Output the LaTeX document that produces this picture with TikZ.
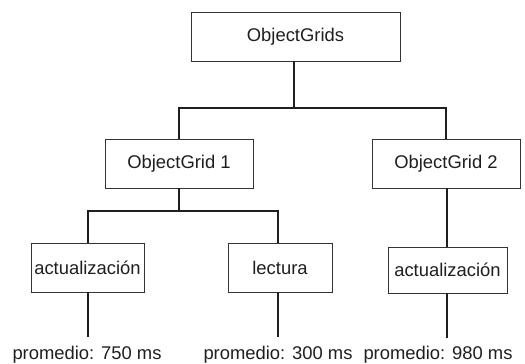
\documentclass[tikz,border=0pt]{standalone}
\usepackage{fontspec}
\setmainfont{Liberation Sans}
\begin{document}
\begin{tikzpicture}[x=1pt,y=-1pt,
  box/.style={draw=black!80, line width=0.8pt, fill=white, inner sep=0pt,
    font=\fontsize{18.4}{20}\selectfont, text=black!88},
  conn/.style={draw=black!88, line width=2pt},
  lbl/.style={inner sep=0pt, font=\fontsize{18.4}{20}\selectfont, text=black!88}]
\useasboundingbox (0,0) rectangle (525,364);

% tree boxes
\node[box, minimum width=209pt, minimum height=49pt] (root) at (295.5,36.5) {ObjectGrids};
\node[box, minimum width=148pt, minimum height=49pt] (og1) at (179,163.5) {ObjectGrid 1};
\node[box, minimum width=148pt, minimum height=49pt] (og2) at (446,163.5) {ObjectGrid 2};
\node[box, minimum width=113pt, minimum height=49pt] (act1) at (87.5,267.5) {actualización};
\node[box, minimum width=104pt, minimum height=49pt] (lec) at (280,267.5) {lectura};
\node[box, minimum width=119pt, minimum height=46pt] (act2) at (447.5,270) {actualización};

% timing labels
\node[lbl] (p1) at (87,355) {promedio: 750 ms};
\node[lbl] (p2) at (278,355) {promedio: 300 ms};
\node[lbl] (p3) at (438,355) {promedio: 980 ms};

% junction points and lead ends
\coordinate (j0) at (294,108);
\coordinate (j1) at (179,211);
\coordinate (e1) at (88,337);
\coordinate (e2) at (278,337);
\coordinate (e3) at (447,338);

% connectors
\draw[conn] (root.south -| j0) -- (j0);
\draw[conn] (og1.north) |- (j0) -| (og2.north);
\draw[conn] (og1.south) -- (j1);
\draw[conn] (act1.north -| e1) |- (j1) -| (lec.north -| e2);
\draw[conn] (og2.south -| e3) -- (act2.north -| e3);
\draw[conn] (act1.south -| e1) -- (e1);
\draw[conn] (lec.south -| e2) -- (e2);
\draw[conn] (act2.south -| e3) -- (e3);
\end{tikzpicture}
\end{document}
